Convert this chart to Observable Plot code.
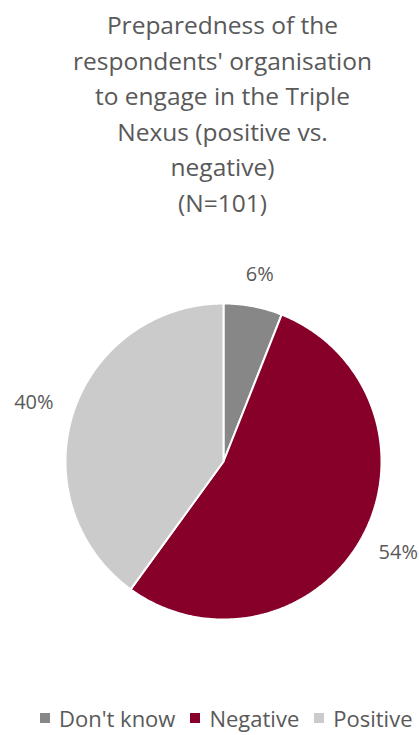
<!DOCTYPE html>
<html>
<head>
<meta charset="utf-8">
<script src="https://cdn.jsdelivr.net/npm/d3@7"></script>
<script src="https://cdn.jsdelivr.net/npm/@observablehq/plot@0.6"></script>
<style>
  html, body { margin: 0; padding: 0; background: #fff; overflow: hidden; }
  #wrap { position: relative; width: 419px; height: 735px; font-family: "Open Sans", sans-serif; color: #595959; }
  #title { position: absolute; left: 26px; top: 7px; width: 393px; text-align: center; font-size: 24.5px; line-height: 35.6px; white-space: nowrap; }
  #chart { position: absolute; left: 0; top: 240px; }
  #legend { position: absolute; left: 40px; top: 707px; width: 379px; white-space: nowrap; }
  #legend, #legend * { font-family: "Open Sans", sans-serif !important; font-size: 22px !important; line-height: 22px !important; color: #595959 !important; }
  #legend > div { display: flex !important; flex-wrap: nowrap !important; width: 379px !important; margin: 0 !important; min-height: 0 !important; }
  #legend span { margin-right: 15px !important; white-space: nowrap !important; }
  #legend span:last-child { margin-right: 0 !important; }
  #legend svg { margin-right: 9px !important; }
</style>
</head>
<body>
<div id="wrap">
  <div id="title">Preparedness of the<br>respondents' organisation<br>to engage in the Triple<br>Nexus (positive vs.<br>negative)<br>(N=101)</div>
  <div id="chart"></div>
  <div id="legend"></div>
</div>
<script>
const categories = ["Don't know", "Negative", "Positive"];
const values = [6, 54, 40];
const colors = ["#878787", "#870029", "#cbcbcb"];
const labels = ["6%", "54%", "40%"];

const W = 419, H = 420;
const cx = 223, cy = 221, R = 158;
const labelFont = 20;

const arcs = d3.pie().sort(null)(values);
const slicePoints = [];
arcs.forEach((a, i) => {
  slicePoints.push({cat: categories[i], x: 0, y: 0});
  const n = Math.max(8, Math.ceil((a.endAngle - a.startAngle) / 0.01));
  for (let k = 0; k <= n; k++) {
    const t = a.startAngle + (a.endAngle - a.startAngle) * k / n;
    slicePoints.push({cat: categories[i], x: Math.sin(t), y: Math.cos(t)});
  }
});
// labels placed outside the slice end: anchor point just beyond the rim, text box pushed outward
const labelData = arcs.map((a, i) => {
  const m = (a.startAngle + a.endAngle) / 2;
  const ux = Math.sin(m), uy = Math.cos(m);
  const w = labels[i].length * 0.58 * labelFont / R, h = 0.8 * labelFont / R;
  const d = 1.152;
  return {label: labels[i], x: d * ux + ux * w / 2, y: d * uy + uy * h / 2};
});

const chart = Plot.plot({
  width: W, height: H, margin: 0,
  style: {background: "transparent", overflow: "visible"},
  x: {domain: [-cx / R, (W - cx) / R], axis: null},
  y: {domain: [-(H - cy) / R, cy / R], axis: null},
  color: {domain: categories, range: colors},
  marks: [
    Plot.line(slicePoints, {x: "x", y: "y", z: "cat", fill: "cat", stroke: "white", strokeWidth: 2, curve: "linear-closed", strokeLinejoin: "miter"}),
    Plot.text(labelData, {x: "x", y: "y", text: "label", fill: "#595959", fontSize: labelFont, fontFamily: "Open Sans"})
  ]
});
document.getElementById("chart").appendChild(chart);

const legend = Plot.legend({
  color: {domain: categories, range: colors},
  legend: "swatches", swatchSize: 10, className: "lg",
  style: {fontSize: "22px", fontFamily: "Open Sans", color: "#595959"}
});
document.getElementById("legend").appendChild(legend);
</script>
</body>
</html>
